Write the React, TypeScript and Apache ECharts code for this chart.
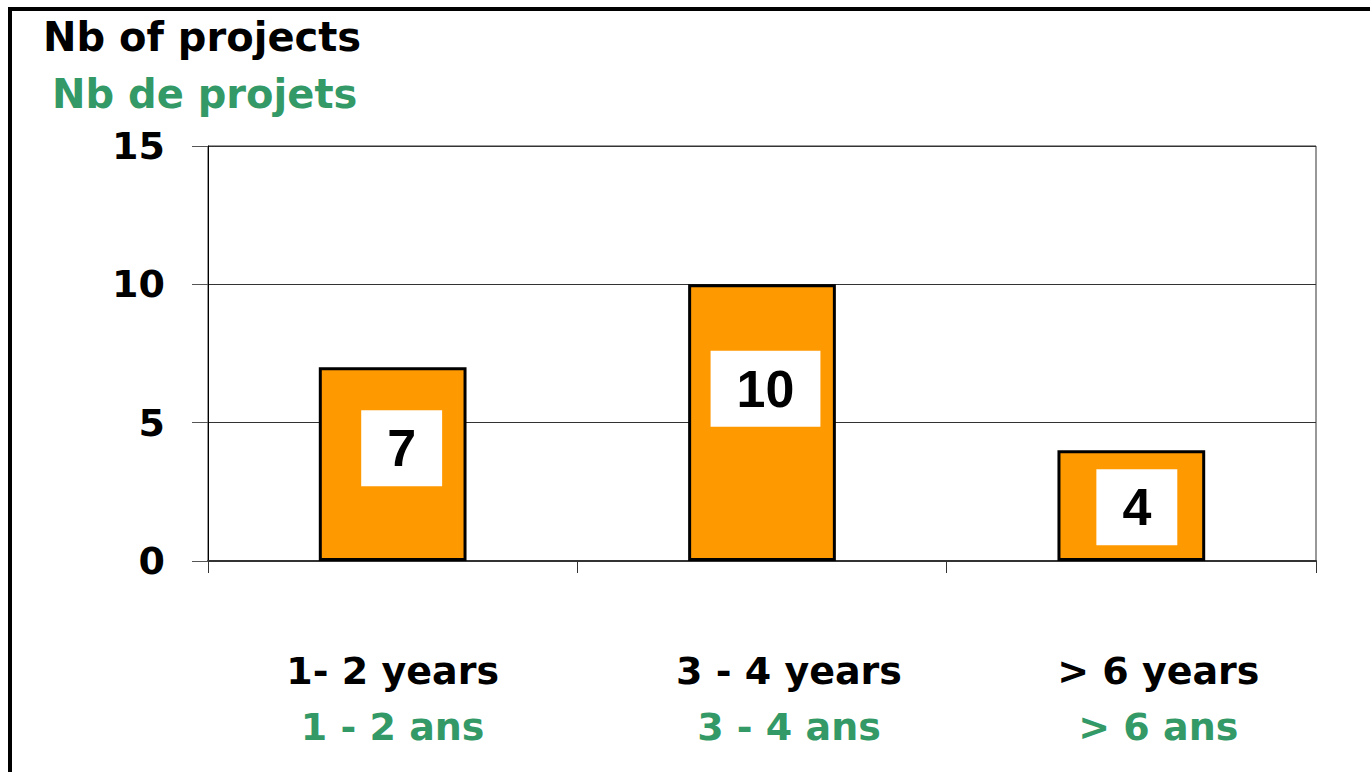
import React, { useEffect, useRef } from "react";
import * as echarts from "echarts";

const categoriesEn = ["1- 2 years", "3 - 4 years", "> 6 years"];
const categoriesFr = ["1 - 2 ans", "3 - 4 ans", "> 6 ans"];
const projectCounts = [7, 10, 4];
const yMin = 0;
const yMax = 15;
const yInterval = 5;
const titleEn = "Nb of projects";
const titleFr = "Nb de projets";

const GREEN = "#339966";
const ORANGE = "#FF9900";
const AXIS_FONT = "DejaVu Sans";

export default function App() {
  const ref = useRef<HTMLDivElement>(null);

  useEffect(() => {
    if (!ref.current) return;
    const chart = echarts.init(ref.current, null, { renderer: "svg" });

    // manual label placement as in the original (offset from bar centre)
    const labelShift = [
      [9, -16],
      [3.5, -34],
      [5.5, 1.5],
    ];

    const option: any = {
      animation: false,
      backgroundColor: "#ffffff",
      grid: {
        left: 208,
        right: 54,
        top: 146,
        bottom: 211,
        show: true,
        borderColor: "#333",
        borderWidth: 1,
        backgroundColor: "transparent",
      },
      xAxis: {
        type: "category",
        data: categoriesEn,
        axisLine: { show: true, lineStyle: { color: "#333", width: 2 } },
        axisTick: { show: true, length: 12, interval: 0, lineStyle: { color: "#333", width: 1 } },
        splitLine: { show: false },
        axisLabel: {
          interval: 0,
          margin: 82,
          formatter: (v: string, i: number) => {
            const s = i > 0 ? "S" : "";
            return `{en${s}|${v}}\n{fr${s}|${categoriesFr[i]}}`;
          },
          rich: {
            en: { fontFamily: AXIS_FONT, fontSize: 38, fontWeight: "bold", color: "#000", lineHeight: 56 },
            fr: { fontFamily: AXIS_FONT, fontSize: 38, fontWeight: "bold", color: GREEN, lineHeight: 56 },
            enS: { fontFamily: AXIS_FONT, fontSize: 38, fontWeight: "bold", color: "#000", lineHeight: 56, padding: [0, 0, 0, 54] },
            frS: { fontFamily: AXIS_FONT, fontSize: 38, fontWeight: "bold", color: GREEN, lineHeight: 56, padding: [0, 0, 0, 54] },
          },
        },
      },
      yAxis: {
        type: "value",
        min: yMin,
        max: yMax,
        interval: yInterval,
        axisLine: { show: true, lineStyle: { color: "#000", width: 1 } },
        axisTick: { show: true, length: 16, lineStyle: { color: "#555", width: 1 } },
        splitLine: { show: true, lineStyle: { color: "#333", width: 1 } },
        axisLabel: {
          margin: 43,
          fontFamily: AXIS_FONT,
          fontSize: 38,
          fontWeight: "bold",
          color: "#000",
        },
      },
      series: [
        {
          type: "bar",
          barWidth: "40%",
          data: projectCounts.map((v, i) => ({
            value: v,
            label: { offset: labelShift[i] },
          })),
          itemStyle: { color: ORANGE, borderColor: "#000", borderWidth: 3 },
          label: {
            show: true,
            position: "inside",
            fontFamily: "Liberation Sans",
            fontSize: 52,
            fontWeight: "bold",
            color: "#000",
            backgroundColor: "#fff",
            lineHeight: 52,
            padding: [12, 26],
          },
        },
      ],
      graphic: [
        {
          type: "rect",
          shape: { x: 10, y: 9, width: 1500, height: 900 },
          style: { fill: "none", stroke: "#000", lineWidth: 4 },
          silent: true,
        },
        {
          type: "text",
          x: 43,
          y: 37,
          style: {
            text: titleEn,
            fill: "#000",
            font: `bold 40px "${AXIS_FONT}"`,
            textAlign: "left",
            textVerticalAlign: "middle",
          },
        },
        {
          type: "text",
          x: 52,
          y: 94,
          style: {
            text: titleFr,
            fill: GREEN,
            font: `bold 40px "${AXIS_FONT}"`,
            textAlign: "left",
            textVerticalAlign: "middle",
          },
        },
      ],
    };

    chart.setOption(option);
    return () => chart.dispose();
  }, []);

  return (
    <div
      ref={ref}
      style={{ position: "fixed", left: 0, top: 0, width: 1370, height: 772 }}
    />
  );
}
